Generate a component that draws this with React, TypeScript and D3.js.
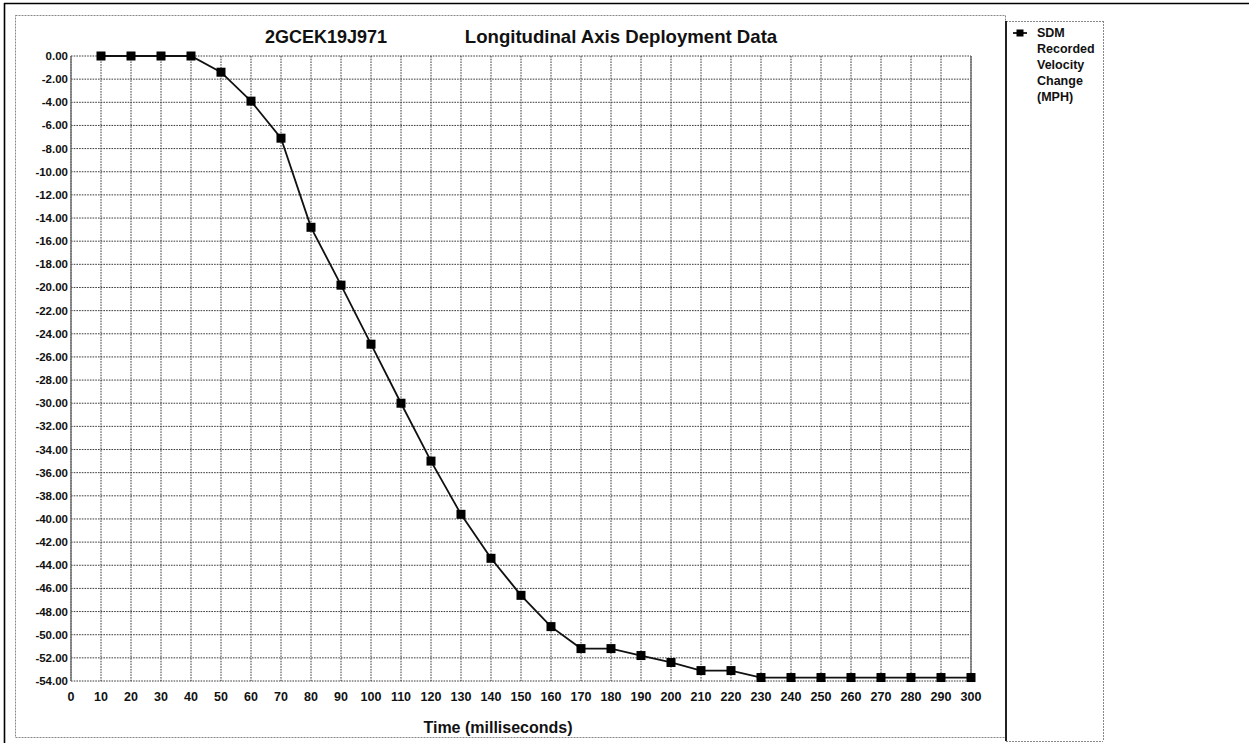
import React from "react";
import * as d3 from "d3";

const times: number[] = [10, 20, 30, 40, 50, 60, 70, 80, 90, 100, 110, 120, 130, 140, 150, 160, 170, 180, 190, 200, 210, 220, 230, 240, 250, 260, 270, 280, 290, 300];
const velocity: number[] = [0, 0, 0, 0, -1.4, -3.9, -7.1, -14.8, -19.8, -24.9, -30.0, -35.0, -39.6, -43.4, -46.6, -49.3, -51.2, -51.2, -51.8, -52.4, -53.1, -53.1, -53.7, -53.7, -53.7, -53.7, -53.7, -53.7, -53.7, -53.7];
const xTicks: number[] = d3.range(0, 301, 10);
const yTicks: number[] = d3.range(0, -55, -2);
const titleLeft = "2GCEK19J971";
const titleRight = "Longitudinal Axis Deployment Data";
const xTitle = "Time (milliseconds)";
const legendLines: string[] = ["SDM", "Recorded", "Velocity", "Change", "(MPH)"];

const W = 1249;
const H = 743;
const FONT = "'Liberation Sans', Arial, Helvetica, sans-serif";

export default function App() {
  const x = d3.scaleLinear().domain([0, 300]).range([71, 971]);
  const y = d3.scaleLinear().domain([-54, 0]).range([681, 56]);
  const pts = times.map((t, i) => [t, velocity[i]] as [number, number]);
  const line = d3
    .line<[number, number]>()
    .x((d) => x(d[0]))
    .y((d) => y(d[1]));
  const grid = "#3a3a3a";
  const dash = "1.6 1.1";
  const ms = 9;

  return (
    <svg
      width={W}
      height={H}
      viewBox={`0 0 ${W} ${H}`}
      style={{ position: "absolute", left: 0, top: 0, background: "#fff" }}
      fontFamily={FONT}
    >
      <rect x={0} y={0} width={W} height={H} fill="#fff" />
      {/* outer black frame lines */}
      <line x1={4} y1={3.5} x2={W} y2={3.5} stroke="#000" strokeWidth={1.6} />
      <line x1={4.5} y1={3} x2={4.5} y2={H} stroke="#000" strokeWidth={1.6} />

      {/* chart area dotted border */}
      <rect x={15.5} y={15.5} width={990} height={722} fill="none" stroke="#888" strokeWidth={1} strokeDasharray="2 1" />
      {/* legend box */}
      <line x1={1006} y1={21.5} x2={1103} y2={21.5} stroke="#888" strokeWidth={1} strokeDasharray="2 1" />
      <line x1={1103.5} y1={21} x2={1103.5} y2={741} stroke="#888" strokeWidth={1} strokeDasharray="2 1" />
      <line x1={1006} y1={741.5} x2={1103} y2={741.5} stroke="#888" strokeWidth={1} strokeDasharray="2 1" />
      <line x1={1006} y1={21} x2={1006} y2={741} stroke="#222" strokeWidth={2} />

      {/* titles */}
      <text x={326} y={43} textAnchor="middle" fontWeight="bold" fontSize={18} fill="#111">
        {titleLeft}
      </text>
      <text x={621} y={43} textAnchor="middle" fontWeight="bold" fontSize={18.6} fill="#111">
        {titleRight}
      </text>

      {/* gridlines */}
      {yTicks.map((v) => (
        <line key={"h" + v} x1={x(0)} x2={x(300)} y1={y(v)} y2={y(v)} stroke={grid} strokeWidth={1} strokeDasharray={dash} />
      ))}
      {xTicks.map((v) => (
        <line key={"v" + v} x1={x(v)} x2={x(v)} y1={y(0)} y2={y(-54)} stroke={grid} strokeWidth={1} strokeDasharray={dash} />
      ))}
      {/* plot borders */}
      <line x1={x(0)} x2={x(0)} y1={y(0)} y2={y(-54)} stroke="#666" strokeWidth={1.3} />
      <line x1={x(300)} x2={x(300)} y1={y(0)} y2={y(-54)} stroke="#666" strokeWidth={1.3} />

      {/* y tick labels */}
      {yTicks.map((v) => (
        <text key={"yl" + v} x={68} y={y(v) + 4} textAnchor="end" fontWeight="bold" fontSize={11.5} fill="#111">
          {v.toFixed(2)}
        </text>
      ))}
      {/* x tick labels */}
      {xTicks.map((v) => (
        <text key={"xl" + v} x={x(v)} y={701} textAnchor="middle" fontWeight="bold" fontSize={12.5} fill="#111">
          {v}
        </text>
      ))}
      <text x={498} y={733} textAnchor="middle" fontWeight="bold" fontSize={16} fill="#111">
        {xTitle}
      </text>

      {/* series */}
      <path d={line(pts) || ""} fill="none" stroke="#111" strokeWidth={1.8} />
      {pts.map((d, i) => (
        <rect key={"m" + i} x={x(d[0]) - ms / 2} y={y(d[1]) - ms / 2} width={ms} height={ms} fill="#000" />
      ))}

      {/* legend */}
      <line x1={1013} x2={1027} y1={33} y2={33} stroke="#111" strokeWidth={1.8} />
      <rect x={1016.5} y={29.5} width={7} height={7} fill="#000" />
      {legendLines.map((s, i) => (
        <text key={"lg" + i} x={1037} y={37 + i * 16} fontWeight="bold" fontSize={12.5} fill="#111">
          {s}
        </text>
      ))}
    </svg>
  );
}
